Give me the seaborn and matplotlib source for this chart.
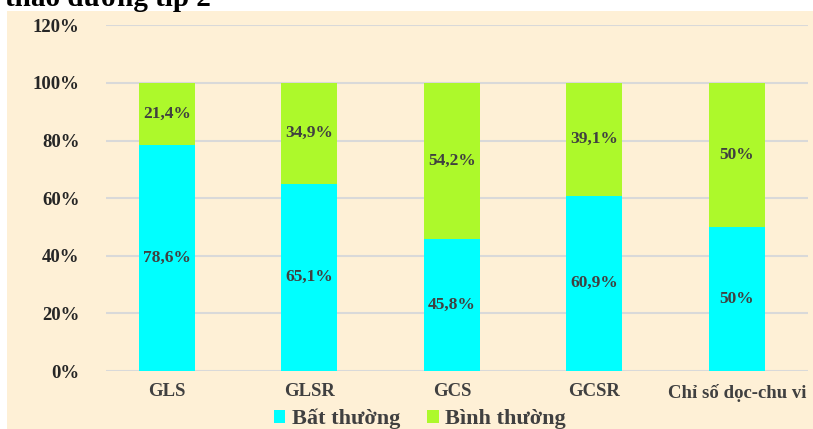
import matplotlib
matplotlib.use("Agg")
import matplotlib.pyplot as plt
from matplotlib.patches import Rectangle
import numpy as np
import pandas as pd
import seaborn as sns

# Data
categories = ["GLS", "GLSR", "GCS", "GCSR", "Chỉ số dọc-chu vi"]
bat_thuong = [78.6, 65.1, 45.8, 60.9, 50.0]
binh_thuong = [21.4, 34.9, 54.2, 39.1, 50.0]
bat_labels = ["78,6%", "65,1%", "45,8%", "60,9%", "50%"]
binh_labels = ["21,4%", "34,9%", "54,2%", "39,1%", "50%"]
y_ticks = [0, 20, 40, 60, 80, 100, 120]
y_ticklabels = ["0%", "20%", "40%", "60%", "80%", "100%", "120%"]

CYAN = "#00FFFF"
GREEN = "#ADF92B"
PANEL = "#FEF0D6"
GRID = "#D9D9D9"
TEXT = "#404040"

sns.set_theme(style="white")
plt.rcParams["font.family"] = ["Liberation Serif", "DejaVu Serif"]
plt.rcParams["font.weight"] = "bold"

W, H = 813, 429
fig = plt.figure(figsize=(W / 100, H / 100), dpi=100)
fig.patch.set_facecolor("white")

# cream panel behind the chart
fig.patches.append(Rectangle((7 / W, 0), 1 - 7 / W, 1 - 11 / H,
                             transform=fig.transFigure, facecolor=PANEL,
                             edgecolor="none", zorder=-5))

# heading, mostly running off the top edge
fig.text(5 / W, 1 - 6 / H, "tháo đường típ 2", fontsize=21, fontweight="bold",
         color="black", ha="left", va="baseline")

ax = fig.add_axes([106 / W, 1 - 371 / H, (808 - 106) / W, (371 - 25.4) / H])
ax.set_zorder(2)
ax.set_facecolor("none")

df = pd.DataFrame({
    "cat": categories,
    "bat": bat_thuong,
    "binh": binh_thuong,
})
df["total"] = df["bat"] + df["binh"]

# stacked bars: full height in green, abnormal share in cyan on top of it
sns.barplot(data=df, x="cat", y="total", color=GREEN, saturation=1,
            width=0.393, ax=ax, zorder=3, linewidth=0)
sns.barplot(data=df, x="cat", y="bat", color=CYAN, saturation=1,
            width=0.393, ax=ax, zorder=4, linewidth=0)

for i, (b, n) in enumerate(zip(bat_thuong, binh_thuong)):
    ax.text(i, b / 2, bat_labels[i], ha="center", va="center", fontsize=12.5,
            fontweight="bold", color=TEXT, zorder=5)
    ax.text(i, b + n / 2, binh_labels[i], ha="center", va="center", fontsize=12.5,
            fontweight="bold", color=TEXT, zorder=5)

ax.set_ylim(0, 120)
ax.set_xlim(-0.428, 4.5)
ax.set_yticks(y_ticks)
ax.set_yticklabels(y_ticklabels)
ax.yaxis.grid(True, color=GRID, linewidth=1.5, zorder=0)
ax.set_axisbelow(True)
for s in ax.spines.values():
    s.set_visible(False)
ax.tick_params(axis="y", length=0, pad=19, labelsize=13.5, labelcolor="#262626")
ax.tick_params(axis="x", length=0, pad=9, labelsize=13.5, labelcolor=TEXT)
for lab in ax.get_xticklabels() + ax.get_yticklabels():
    lab.set_fontweight("bold")
ax.set_xlabel("")
ax.set_ylabel("")

# legend along the bottom
handles = [Rectangle((0, 0), 1, 1, facecolor=CYAN, edgecolor="none"),
           Rectangle((0, 0), 1, 1, facecolor=GREEN, edgecolor="none")]
leg = fig.legend(handles, ["Bất thường", "Bình thường"], loc="center",
                 bbox_to_anchor=(420 / W, 1 - 419 / H), ncol=2, frameon=False,
                 prop={"size": 16, "weight": "bold"}, handlelength=0.52,
                 handleheight=0.52, handletextpad=0.3, columnspacing=1.2,
                 borderpad=0, borderaxespad=0)
for t in leg.get_texts():
    t.set_color(TEXT)

fig.savefig("out.png", dpi=100, facecolor="white")
